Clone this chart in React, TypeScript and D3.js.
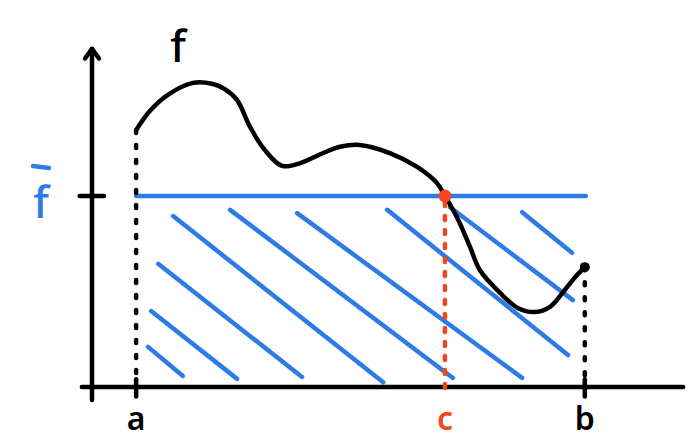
import React from "react";
import * as d3 from "d3";

// curve f(x)
const curveX = [1.0, 1.31, 1.72, 2.29, 2.72, 3.01, 3.29, 3.58, 3.92, 4.31, 4.72, 5.24, 5.62, 6.07, 6.75, 7.37, 7.82, 8.0, 8.27, 8.57, 8.79, 9.25, 9.66, 10.04, 10.38, 10.68, 10.95, 11.17];
const curveY = [5.38, 5.78, 6.12, 6.37, 6.35, 6.24, 6.01, 5.45, 4.96, 4.63, 4.69, 4.9, 5.03, 5.07, 4.9, 4.61, 4.27, 4.0, 3.56, 2.93, 2.45, 1.97, 1.65, 1.57, 1.68, 1.99, 2.3, 2.51];

// key x positions and mean value
const xTicks = ["a", "c", "b"];
const xTickValues = [1.0, 8.0, 11.17];
const fMean = 4.0;

// hatch strokes: [x1, y1, x2, y2]
const hatchX1 = [1.27, 1.34, 1.5, 1.84, 3.13, 4.65, 6.69, 8.11, 9.75];
const hatchY1 = [0.84, 1.59, 2.58, 3.58, 3.71, 3.64, 3.71, 3.77, 3.66];
const hatchX2 = [2.06, 3.29, 4.76, 6.6, 8.18, 9.75, 10.79, 10.9, 10.88];
const hatchY2 = [0.23, 0.17, 0.21, 0.1, 0.19, 0.19, 0.67, 1.82, 2.81];

const width = 694;
const height = 442;
const blue = "#2d7be6";
const red = "#f4461c";

export default function App() {
  const x = d3.scaleLinear().domain([0, 13.6]).range([92, 692]);
  const y = d3.scaleLinear().domain([0, 8]).range([387, 5]);

  const pts: [number, number][] = curveX.map((v, i) => [v, curveY[i]]);
  const line = d3
    .line<[number, number]>()
    .x((d) => x(d[0]))
    .y((d) => y(d[1]))
    .curve(d3.curveCatmullRom.alpha(0.5));

  const a = xTickValues[0];
  const c = xTickValues[1];
  const b = xTickValues[2];
  const fa = curveY[0];
  const fb = curveY[curveY.length - 1];
  const font = "'Noto Sans', sans-serif";

  return (
    <svg
      width={width}
      height={height}
      style={{ position: "absolute", left: 0, top: 0, background: "#fff" }}
    >
      {/* hatch */}
      <g stroke={blue} strokeWidth={4.5} strokeLinecap="round">
        {hatchX1.map((v, i) => (
          <line key={i} x1={x(v)} y1={y(hatchY1[i])} x2={x(hatchX2[i])} y2={y(hatchY2[i])} />
        ))}
      </g>

      {/* mean line */}
      <line x1={x(a)} y1={y(fMean)} x2={x(b) + 1} y2={y(fMean)} stroke={blue} strokeWidth={4.5} strokeLinecap="round" />

      {/* axes */}
      <g stroke="#000" strokeWidth={4.5} strokeLinecap="round" fill="none">
        <line x1={x(-0.23)} y1={y(0)} x2={x(13.4)} y2={y(0)} />
        <line x1={x(0)} y1={y(-0.27)} x2={x(0)} y2={y(7.08)} />
        <path d={`M${x(0) - 7},${y(6.88)} L${x(0)},${y(7.08)} L${x(0) + 7},${y(6.88)}`} strokeLinejoin="round" />
        <line x1={x(-0.28)} y1={y(fMean)} x2={x(0.27)} y2={y(fMean)} />
        {[a, b].map((v, i) => (
          <line key={i} x1={x(v)} y1={y(0.16)} x2={x(v)} y2={y(-0.2)} />
        ))}
      </g>

      {/* dotted verticals at a and b */}
      <g stroke="#000" strokeWidth={4.5} strokeLinecap="round" strokeDasharray="3 12">
        <line x1={x(a)} y1={y(fa)} x2={x(a)} y2={y(0)} />
        <line x1={x(b)} y1={y(fb)} x2={x(b)} y2={y(0)} />
      </g>

      {/* curve */}
      <path d={line(pts) ?? ""} fill="none" stroke="#000" strokeWidth={4.5} strokeLinecap="round" strokeLinejoin="round" />
      <circle cx={x(b)} cy={y(fb)} r={5} fill="#000" />

      {/* c */}
      <line x1={x(c)} y1={y(fMean) + 6} x2={x(c)} y2={y(-0.17)} stroke={red} strokeWidth={4.5} strokeLinecap="round" strokeDasharray="4 10" />
      <circle cx={x(c)} cy={y(fMean)} r={6.5} fill={red} />

      {/* labels */}
      {xTicks.map((t, i) => (
        <text
          key={t}
          x={x(xTickValues[i])}
          y={430}
          textAnchor="middle"
          fontFamily={font}
          fontSize={32}
          fontWeight={600}
          fill={t === "c" ? red : "#000"}
        >
          {t}
        </text>
      ))}
      <text x={178} y={62} textAnchor="middle" fontFamily={font} fontSize={44} fontWeight={500} fill="#000">
        f
      </text>
      <text x={41} y={218} textAnchor="middle" fontFamily={font} fontSize={44} fontWeight={500} fill={blue}>
        f
      </text>
      <line x1={33} y1={166} x2={49} y2={168} stroke={blue} strokeWidth={4.5} strokeLinecap="round" />
    </svg>
  );
}
